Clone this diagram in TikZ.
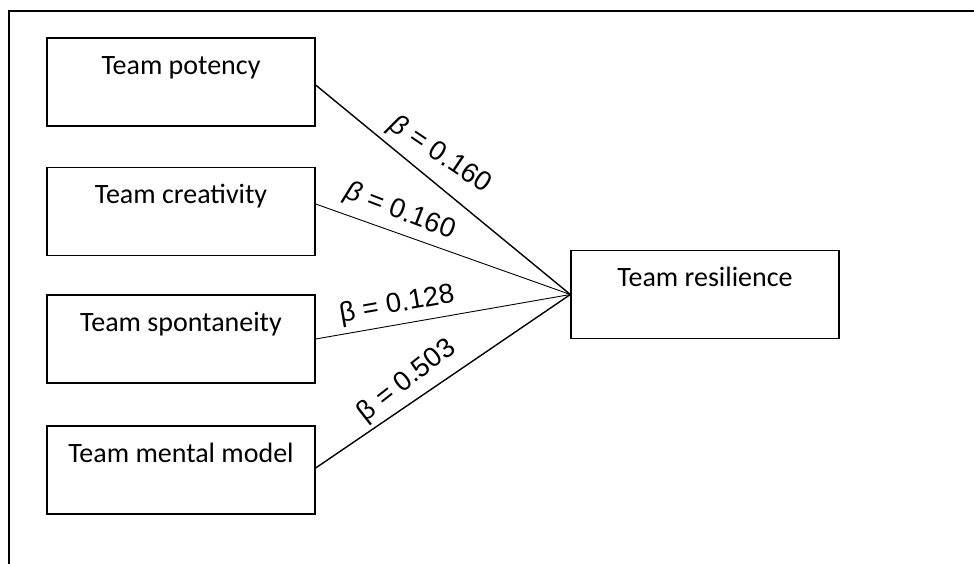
\documentclass[tikz,border=0pt]{standalone}
\usepackage{fontspec}
\setmainfont{Carlito}
\newfontfamily\arialfont{Liberation Sans}
\begin{document}
\begin{tikzpicture}[x=1pt,y=-1pt,
  box/.style={draw, line width=1.3pt, minimum width=268pt, minimum height=88pt, inner sep=0pt},
  boxtext/.style={anchor=base, inner sep=0pt, font=\fontsize{28}{33}\selectfont},
  coef/.style={inner sep=0pt, font={\fontsize{27.5}{32}\arialfont}},
  thick line/.style={line width=1.4pt},
  thin line/.style={line width=0.9pt}]
\useasboundingbox (0,0) rectangle (974,563);
\draw[line width=2pt] (9,564) -- (9,11) -- (976,11);

\node[box] (p) at (181,82) {};
\node[box] (c) at (181,211.5) {};
\node[box] (s) at (181,339) {};
\node[box] (m) at (181,470) {};
\node[box] (r) at (705,294.5) {};

\node[boxtext] (pt) at ([yshift=-37pt]p.north) {Team potency};
\node[boxtext] (ct) at ([yshift=-37pt]c.north) {Team creativity};
\node[boxtext] (st) at ([yshift=-37pt]s.north) {Team spontaneity};
\node[boxtext] (mt) at ([yshift=-37pt]m.north) {Team mental model};
\node[boxtext] (rt) at ([yshift=-37pt]r.north) {Team resilience};

\draw[thick line] ([yshift=-3pt]p.east) -- (r.west);
\draw[thin line] ([yshift=7.5pt]c.east) -- (r.west);
\draw[thin line] (s.east) -- (r.west);
\draw[thick line] ([yshift=2pt]m.east) -- (r.west);

\node[coef, rotate=-34] (l1) at (440,155) {{\itshape β} = 0.160};
\node[coef, rotate=-21] (l2) at (400,212) {{\itshape β} = 0.160};
\node[coef, rotate=10] (l3) at (397,305) {β = 0.128};
\node[coef, rotate=38] (l4) at (407,381) {β = 0.503};
\end{tikzpicture}
\end{document}
